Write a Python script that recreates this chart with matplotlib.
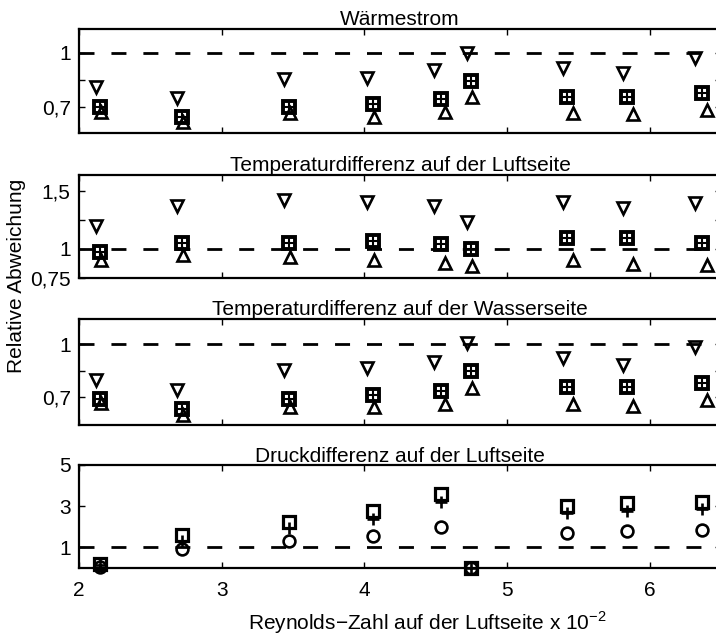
import matplotlib
matplotlib.use('Agg')
import matplotlib.pyplot as plt

plt.rcParams['font.family'] = ['Liberation Sans', 'DejaVu Sans']
plt.rcParams['mathtext.fontset'] = 'custom'
plt.rcParams['mathtext.rm'] = 'Liberation Sans'
plt.rcParams['lines.scale_dashes'] = False

# Reynolds-Zahl (x 10^-2) je Messreihe
re_down = [2.12, 2.685, 3.44, 4.02, 4.49, 4.72, 5.39, 5.81, 6.32]
re_sq = [2.145, 2.72, 3.47, 4.06, 4.536, 4.746, 5.42, 5.84, 6.37]
re_up = [2.152, 2.73, 3.48, 4.07, 4.564, 4.757, 5.46, 5.88, 6.405]

# Wärmestrom
q_down = [0.809, 0.751, 0.855, 0.862, 0.904, 0.997, 0.914, 0.886, 0.972]
q_sq = [0.698, 0.643, 0.698, 0.715, 0.744, 0.845, 0.757, 0.757, 0.779]
q_up = [0.674, 0.619, 0.665, 0.646, 0.671, 0.757, 0.669, 0.660, 0.683]

# Temperaturdifferenz Luftseite
tl_down = [1.197, 1.368, 1.42, 1.405, 1.368, 1.234, 1.405, 1.354, 1.392]
tl_sq = [0.97, 1.049, 1.049, 1.071, 1.043, 1.0, 1.092, 1.092, 1.054]
tl_up = [0.906, 0.949, 0.929, 0.906, 0.883, 0.849, 0.906, 0.869, 0.863]

# Temperaturdifferenz Wasserseite
tw_down = [0.796, 0.738, 0.853, 0.863, 0.90, 1.006, 0.923, 0.882, 0.986]
tw_sq = [0.687, 0.630, 0.687, 0.71, 0.734, 0.849, 0.754, 0.754, 0.780]
tw_up = [0.662, 0.595, 0.643, 0.643, 0.658, 0.748, 0.657, 0.647, 0.681]

# Druckdifferenz Luftseite
p_sq = [0.19, 1.6, 2.24, 2.76, 3.61, 0.0, 2.98, 3.14, 3.22]
p_plus = [0.12, 1.32, 1.95, 2.39, 3.22, 0.0, 2.66, 2.78, 2.86]
p_circ = [0.05, 0.92, 1.29, 1.56, 1.96, 0.0, 1.67, 1.77, 1.85]

titles = ['Wärmestrom', 'Temperaturdifferenz auf der Luftseite',
          'Temperaturdifferenz auf der Wasserseite', 'Druckdifferenz auf der Luftseite']

W, H = 716, 637
fig = plt.figure(figsize=(W / 100, H / 100), dpi=100)

left, right = 79, 721
boxes = [(29, 133), (175, 278), (319, 425), (465, 568)]
ylims = [(0.556, 1.131), (0.751, 1.635), (0.538, 1.145), (-0.02, 5.0)]
yticks = [[0.7, 0.85, 1.0], [0.75, 1.0, 1.25, 1.5], [0.7, 0.85, 1.0], [1, 3, 5]]
yticklabels = [['0,7', '', '1'], ['0,75', '1', '', '1,5'], ['0,7', '', '1'], ['1', '3', '5']]

mk = dict(linestyle='none', color='k', markerfacecolor='none', clip_on=False, zorder=3)

axes = []
for i, (top, bot) in enumerate(boxes):
    ax = fig.add_axes([left / W, (H - bot) / H, (right - left) / W, (bot - top) / H])
    axes.append(ax)
    ax.set_xlim(2, 6.5)
    ax.set_ylim(*ylims[i])
    ax.plot([2, 6.5], [1, 1], color='k', linewidth=2, linestyle=(0, (10.8, 12.2)), zorder=2)
    ax.set_xticks([2, 3, 4, 5, 6])
    ax.set_yticks(yticks[i])
    ax.set_yticklabels(yticklabels[i])
    ax.tick_params(direction='in', top=True, right=True, length=4, width=1,
                   labelsize=15, pad=6)
    for s in ax.spines.values():
        s.set_linewidth(1.6)
    ax.set_title(titles[i], fontsize=15, pad=2)
    if i < 3:
        ax.set_xticklabels([])

series = [(q_down, q_sq, q_up), (tl_down, tl_sq, tl_up), (tw_down, tw_sq, tw_up)]
for ax, (d, s, u) in zip(axes[:3], series):
    ax.plot(re_down, d, marker='v', markersize=8, markeredgewidth=1.9, **mk)
    ax.plot(re_up, u, marker='^', markersize=8, markeredgewidth=1.9, **mk)
    ax.plot(re_sq, s, marker='s', markersize=8, markeredgewidth=2.8, **mk)
    ax.plot(re_sq, s, marker='+', markersize=8, markeredgewidth=1.5, **mk)

ax = axes[3]
ax.plot(re_sq, p_circ, marker='o', markersize=8.5, markeredgewidth=1.9, **mk)
ax.plot(re_sq, p_sq, marker='s', markersize=8.5, markeredgewidth=2.3, **mk)
ax.plot(re_sq, p_plus, marker='+', markersize=9, markeredgewidth=1.9, **mk)
ax.set_xticklabels(['2', '3', '4', '5', '6'])
ax.tick_params(axis='x', pad=9)
ax.set_xlabel('Reynolds\u2212Zahl auf der Luftseite x 10$^{\\mathregular{\u22122}}$',
              fontsize=15)
ax.xaxis.set_label_coords(0.542, -0.40)

fig.text(17 / W, 1 - 276 / H, 'Relative Abweichung', rotation=90, fontsize=15,
         ha='center', va='center')

fig.savefig('out.png', dpi=100)
